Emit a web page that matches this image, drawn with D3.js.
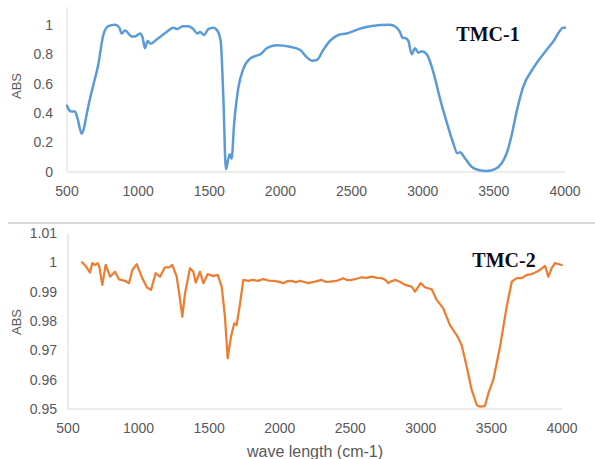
<!DOCTYPE html>
<html lang="en">

<head>
    <meta charset="UTF-8">
    <title>TMC spectra</title>
    <style>
        body {
            margin: 0;
            background: #fff;
        }
        text {
            font-family: "Liberation Sans", Arial, sans-serif;
        }
        text.name {
            font-family: "Liberation Serif", "Times New Roman", serif;
            font-weight: bold;
        }
    </style>
</head>

<body>
    <svg></svg>
    <script src="https://d3js.org/d3.v7.min.js"></script>
    <script>
        // wave number (cm-1) and ABS
        var tmc1Wave = [500, 515, 533, 556, 575, 603, 620, 638, 660, 685, 720, 755, 790, 837, 868, 884, 908, 955, 978, 1013,
            1032, 1048, 1067, 1088, 1130, 1200, 1247, 1275, 1313, 1353, 1388, 1416, 1435, 1463, 1493, 1528, 1556, 1580, 1599, 1617,
            1634, 1645, 1657, 1674, 1704, 1739, 1786, 1833, 1861, 1903, 1974, 2067, 2137, 2184, 2220, 2255, 2302, 2348, 2407, 2466,
            2550, 2630, 2770, 2817, 2840, 2859, 2875, 2899, 2922, 2946, 2969, 2993, 3028, 3074, 3121, 3168, 3215, 3243, 3262, 3297,
            3344, 3391, 3450, 3508, 3555, 3590, 3625, 3660, 3707, 3777, 3847, 3918, 3988, 4000];
        var tmc1Abs = [0.45, 0.42, 0.41, 0.41, 0.36, 0.26, 0.30, 0.39, 0.49, 0.59, 0.73, 0.93, 0.99, 1.00, 0.98, 0.94, 0.96, 0.92, 0.92, 0.94,
            0.91, 0.84, 0.89, 0.87, 0.90, 0.95, 0.98, 0.97, 0.99, 0.99, 0.97, 0.94, 0.95, 0.93, 0.97, 0.98, 0.96, 0.89, 0.50, 0.02,
            0.09, 0.12, 0.09, 0.32, 0.57, 0.70, 0.77, 0.79, 0.80, 0.84, 0.86, 0.85, 0.83, 0.78, 0.755, 0.76, 0.83, 0.89, 0.93, 0.94,
            0.97, 0.99, 1.00, 0.98, 0.95, 0.91, 0.91, 0.89, 0.80, 0.84, 0.81, 0.82, 0.80, 0.68, 0.50, 0.34, 0.195, 0.127, 0.134, 0.093,
            0.036, 0.014, 0.007, 0.02, 0.059, 0.127, 0.25, 0.41, 0.58, 0.705, 0.80, 0.886, 0.98, 0.98];

        var tmc2Wave = [600, 632, 656, 672, 691, 710, 722, 743, 767, 798, 833, 861, 904, 932, 956, 987, 1022, 1058, 1088, 1121,
            1152, 1187, 1216, 1239, 1270, 1294, 1310, 1329, 1364, 1388, 1405, 1435, 1459, 1490, 1530, 1561, 1589, 1612, 1631, 1655,
            1678, 1695, 1719, 1742, 1777, 1810, 1848, 1884, 1920, 1955, 1990, 2025, 2055, 2085, 2115, 2144, 2175, 2203, 2250, 2297,
            2330, 2356, 2404, 2451, 2480, 2510, 2545, 2581, 2615, 2652, 2690, 2723, 2750, 2770, 2790, 2817, 2852, 2888, 2935, 2959,
            2999, 3029, 3077, 3112, 3159, 3206, 3254, 3289, 3325, 3360, 3396, 3419, 3454, 3478, 3513, 3561, 3608, 3644, 3679, 3715,
            3750, 3786, 3821, 3844, 3880, 3903, 3927, 3950, 3998];
        var tmc2Abs = [1.0000, 0.9983, 0.9965, 0.9997, 0.9991, 0.9997, 0.9985, 0.9923, 0.9991, 0.9951, 0.9968, 0.9942, 0.9937, 0.9929, 0.9974, 0.9994, 0.9951, 0.9915, 0.9906, 0.9963,
            0.9951, 0.9983, 0.9983, 0.9991, 0.9951, 0.9872, 0.9815, 0.9894, 0.9980, 0.9968, 0.9931, 0.9968, 0.9929, 0.9960, 0.9953, 0.9957, 0.9917, 0.9815, 0.9673, 0.9747,
            0.9792, 0.9786, 0.9860, 0.9940, 0.9937, 0.9940, 0.9937, 0.9943, 0.9938, 0.9937, 0.9934, 0.9929, 0.9936, 0.9937, 0.9932, 0.9937, 0.9933, 0.9929, 0.9934, 0.9940,
            0.9933, 0.9934, 0.9937, 0.9946, 0.9939, 0.9940, 0.9944, 0.9949, 0.9947, 0.9951, 0.9947, 0.9946, 0.9940, 0.9929, 0.9935, 0.9940, 0.9934, 0.9923, 0.9917, 0.9900,
            0.9929, 0.9915, 0.9908, 0.9872, 0.9843, 0.9786, 0.9752, 0.9718, 0.9644, 0.9565, 0.9514, 0.9508, 0.9510, 0.9553, 0.9599, 0.9712, 0.9849, 0.9934, 0.9946, 0.9946,
            0.9957, 0.9960, 0.9968, 0.9974, 0.9988, 0.9951, 0.9980, 0.9997, 0.9991];

        var xTicks = [500, 1000, 1500, 2000, 2500, 3000, 3500, 4000];
        var tmc1YTicks = [0, 0.2, 0.4, 0.6, 0.8, 1];
        var tmc2YTicks = [0.95, 0.96, 0.97, 0.98, 0.99, 1, 1.01];

        var svg = d3.select('svg')
            .attr("width", 595)
            .attr("height", 459);

        function zip(xs, ys) {
            return xs.map(function(d, i) {
                return { w: d, v: ys[i] };
            });
        }

        function drawPanel(opts) {
            var x = d3.scaleLinear().domain([500, 4000]).range([opts.left, opts.right]);
            var y = d3.scaleLinear().domain(opts.yDomain).range([opts.bottom, opts.top]);

            // plain grey axis lines, no ticks
            svg.append("line")
                .attr("x1", opts.left).attr("x2", opts.left)
                .attr("y1", opts.top).attr("y2", opts.bottom)
                .attr("stroke", "#d9d9d9").attr("stroke-width", 1);
            svg.append("line")
                .attr("x1", opts.left).attr("x2", opts.right)
                .attr("y1", opts.bottom).attr("y2", opts.bottom)
                .attr("stroke", "#d9d9d9").attr("stroke-width", 1);

            svg.append("g").selectAll("text")
                .data(xTicks)
                .enter().append("text")
                .attr("x", function(d) { return x(d); })
                .attr("y", opts.bottom + 24)
                .attr("text-anchor", "middle")
                .attr("font-size", 14)
                .attr("fill", "#595959")
                .text(function(d) { return d; });

            svg.append("g").selectAll("text")
                .data(opts.yTicks)
                .enter().append("text")
                .attr("x", opts.yLabelX)
                .attr("y", function(d) { return y(d); })
                .attr("dy", "0.35em")
                .attr("text-anchor", "end")
                .attr("font-size", 14)
                .attr("fill", "#595959")
                .text(function(d) { return d; });

            svg.append("text")
                .attr("transform", "translate(21," + opts.absY + ") rotate(-90)")
                .attr("text-anchor", "middle")
                .attr("font-size", 13)
                .attr("fill", "#595959")
                .text("ABS");

            var line = d3.line()
                .x(function(d) { return x(d.w); })
                .y(function(d) { return y(d.v); })
                .curve(opts.curve);

            svg.append("path")
                .datum(opts.data)
                .attr("fill", "none")
                .attr("stroke", opts.color)
                .attr("stroke-width", opts.width)
                .attr("stroke-linejoin", "round")
                .attr("stroke-linecap", "round")
                .attr("d", line);

            svg.append("text")
                .attr("class", "name")
                .attr("x", opts.nameX)
                .attr("y", opts.nameY)
                .attr("text-anchor", "middle")
                .attr("font-size", 20)
                .attr("fill", "#0d0d1a")
                .text(opts.name);
        }

        drawPanel({
            data: zip(tmc1Wave, tmc1Abs),
            left: 67, right: 565, top: 7, bottom: 172,
            yDomain: [0, 1.12],
            yTicks: tmc1YTicks,
            yLabelX: 53, absY: 86,
            curve: d3.curveMonotoneX,
            color: "#5b9bd5", width: 2.5,
            name: "TMC-1", nameX: 488, nameY: 41
        });

        // border line between the two charts
        svg.append("line")
            .attr("x1", 8).attr("x2", 595)
            .attr("y1", 223).attr("y2", 223)
            .attr("stroke", "#d9d9d9").attr("stroke-width", 2);

        drawPanel({
            data: zip(tmc2Wave, tmc2Abs),
            left: 68, right: 562, top: 233, bottom: 409,
            yDomain: [0.95, 1.01],
            yTicks: tmc2YTicks,
            yLabelX: 57, absY: 322,
            curve: d3.curveLinear,
            color: "#ed7d31", width: 2.25,
            name: "TMC-2", nameX: 504, nameY: 267
        });

        svg.append("text")
            .attr("x", 315)
            .attr("y", 457)
            .attr("text-anchor", "middle")
            .attr("font-size", 16)
            .attr("fill", "#595959")
            .text("wave length (cm-1)");
    </script>
</body>

</html>
